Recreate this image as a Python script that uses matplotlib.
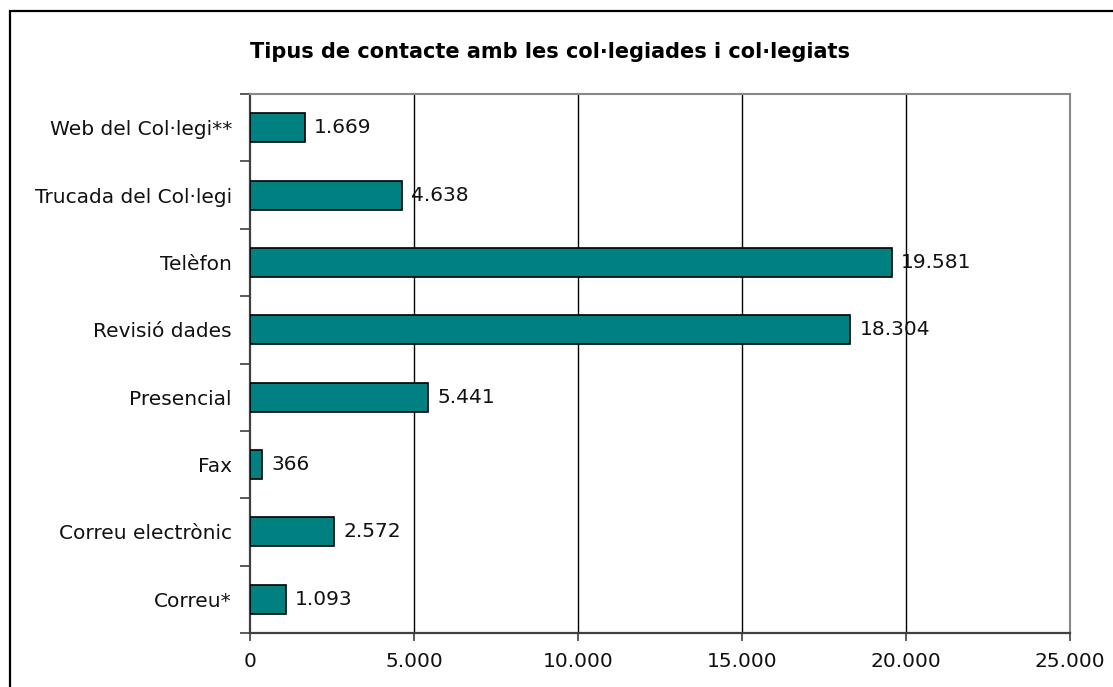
"""Tipus de contacte amb les col·legiades i col·legiats - horizontal bar chart."""

import matplotlib
matplotlib.use("Agg")
import matplotlib.pyplot as plt
from matplotlib.patches import Rectangle
from matplotlib.ticker import FuncFormatter, FixedLocator
import numpy as np

CATEGORIES = [
    "Correu*",
    "Correu electrònic",
    "Fax",
    "Presencial",
    "Revisió dades",
    "Telèfon",
    "Trucada del Col·legi",
    "Web del Col·legi**",
]
VALUES = [1093, 2572, 366, 5441, 18304, 19581, 4638, 1669]
X_TICKS = [0, 5000, 10000, 15000, 20000, 25000]
TITLE = "Tipus de contacte amb les col·legiades i col·legiats"

BAR_COLOR = "#008080"
W, H = 1113, 687
FS = 14.5


def _fmt(v: float) -> str:
    return f"{int(round(v)):,}".replace(",", ".")


def main() -> None:
    plt.rcParams.update({"font.family": "DejaVu Sans", "font.size": FS})

    fig = plt.figure(figsize=(W / 100, H / 100), dpi=100)
    ax = fig.add_axes([250 / W, 1 - 633 / H, (1070 - 250) / W, (633 - 94) / H])

    y = np.arange(len(CATEGORIES))
    bars = ax.barh(y, VALUES, height=0.43, color=BAR_COLOR, edgecolor="black",
                   linewidth=1.2, zorder=3)

    for rect, val in zip(bars, VALUES):
        ax.annotate(_fmt(val), (rect.get_width(), rect.get_y() + rect.get_height() / 2),
                    xytext=(6.5, 0), textcoords="offset points", va="center", ha="left",
                    fontsize=FS, color="#111111", zorder=4)

    ax.set_xlim(0, 25000)
    ax.set_ylim(-0.5, len(CATEGORIES) - 0.5)
    ax.set_xticks(X_TICKS)
    ax.xaxis.set_major_formatter(FuncFormatter(lambda v, _: _fmt(v)))
    ax.tick_params(axis="x", length=6, width=1.2, color="#404040", pad=8,
                   labelsize=FS, labelcolor="#111111")

    ax.set_yticks(y)
    ax.set_yticklabels(CATEGORIES)
    ax.yaxis.set_minor_locator(FixedLocator(np.arange(-0.5, len(CATEGORIES), 1.0)))
    ax.tick_params(axis="y", which="major", length=0, pad=13, labelsize=FS,
                   labelcolor="#111111")
    ax.tick_params(axis="y", which="minor", length=7, width=1.2, color="#404040")

    for xv in X_TICKS[1:-1]:
        ax.axvline(xv, color="black", linewidth=1.0, zorder=1)

    for side in ("top", "right"):
        ax.spines[side].set_color("#888888")
        ax.spines[side].set_linewidth(1.5)
    for side in ("left", "bottom"):
        ax.spines[side].set_color("#404040")
        ax.spines[side].set_linewidth(1.6)

    fig.text(550 / W, 1 - 52 / H, TITLE, ha="center", va="center",
             fontsize=15, fontweight="bold")

    fig.patches.append(Rectangle((10 / W, -0.05), 1.1, 1 - 11 / H + 0.05,
                                 transform=fig.transFigure, fill=False,
                                 edgecolor="black", linewidth=1.6))

    fig.savefig("out.png", dpi=100)
    plt.close(fig)


if __name__ == "__main__":
    main()
